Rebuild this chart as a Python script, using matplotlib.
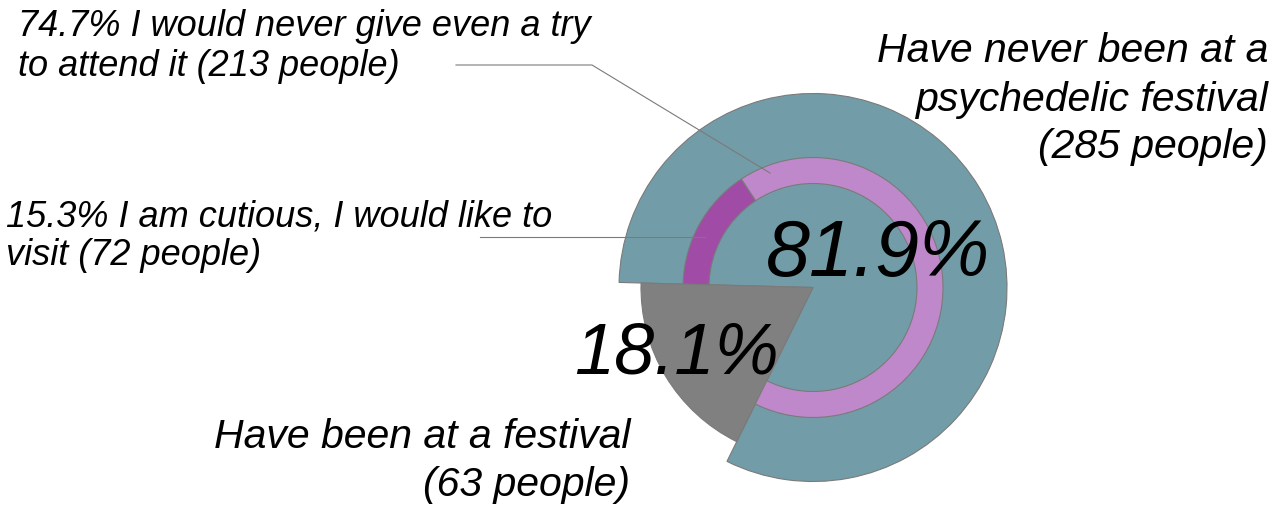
import matplotlib.pyplot as plt

# outer pie: festival attendance
group_people = [63, 285]
group_pct = ["18.1%", "81.9%"]
group_lines = [["Have been at a festival", "(63 people)"],
               ["Have never been at a", "psychedelic festival", "(285 people)"]]

# inner ring: attitude of those who never went (share of all answers)
ring_pct = [15.3, 74.7]
ring_lines = [["15.3% I am cutious, I would like to", "visit (72 people)"],
              ["74.7% I would never give even a try", "to attend it (213 people)"]]

teal = "#729da8"
grey = "#808080"
purple_dark = "#a04ca6"
purple_light = "#bf88cb"
edge = "#7a7a7a"

W, H = 1286, 509
fig = plt.figure(figsize=(W / 100, H / 100), dpi=100)
ax = fig.add_axes([0, 0, 1, 1])

cx, cy = 813, H - 287.5
start = 178.5

wedges, _ = ax.pie(group_people, colors=[grey, teal], startangle=start,
                   counterclock=True, radius=194, center=(cx, cy),
                   wedgeprops=dict(edgecolor=edge, linewidth=0.8))
wedges[0].set_radius(172)
wedges[0].set_zorder(3)
wedges[1].set_zorder(1)

ring, _ = ax.pie([p / 100 for p in ring_pct], colors=[purple_dark, purple_light],
                 startangle=start, counterclock=False, normalize=False,
                 radius=130, center=(cx, cy),
                 wedgeprops=dict(width=26, edgecolor=edge, linewidth=0.8))
for w in ring:
    w.set_zorder(2)

ax.set_xlim(0, W)
ax.set_ylim(0, H)
ax.axis("off")

font = dict(family="Liberation Sans", style="italic", color="black", zorder=6)

# leader lines for the ring labels
ax.plot([480, 705], [H - 237, H - 237], color=edge, lw=0.8, zorder=4)
ax.plot([456, 592, 770], [H - 65, H - 65, H - 173], color=edge, lw=0.8, zorder=4)

def put_lines(x, baselines, lines, size, ha):
    for y, s in zip(baselines, lines):
        ax.text(x, H - y, s, fontsize=size, ha=ha, va="baseline", **font)

put_lines(18, [36, 76], ring_lines[1], 26, "left")
put_lines(6, [226, 265], ring_lines[0], 26, "left")
put_lines(1268, [62, 111, 158], group_lines[1], 29.5, "right")
put_lines(630, [448, 496], group_lines[0], 29.5, "right")

ax.text(766, H - 276, group_pct[1], fontsize=57, ha="left", va="baseline", **font)
ax.text(574, H - 373, group_pct[0], fontsize=52, ha="left", va="baseline", **font)

fig.savefig("out.png", dpi=100)
